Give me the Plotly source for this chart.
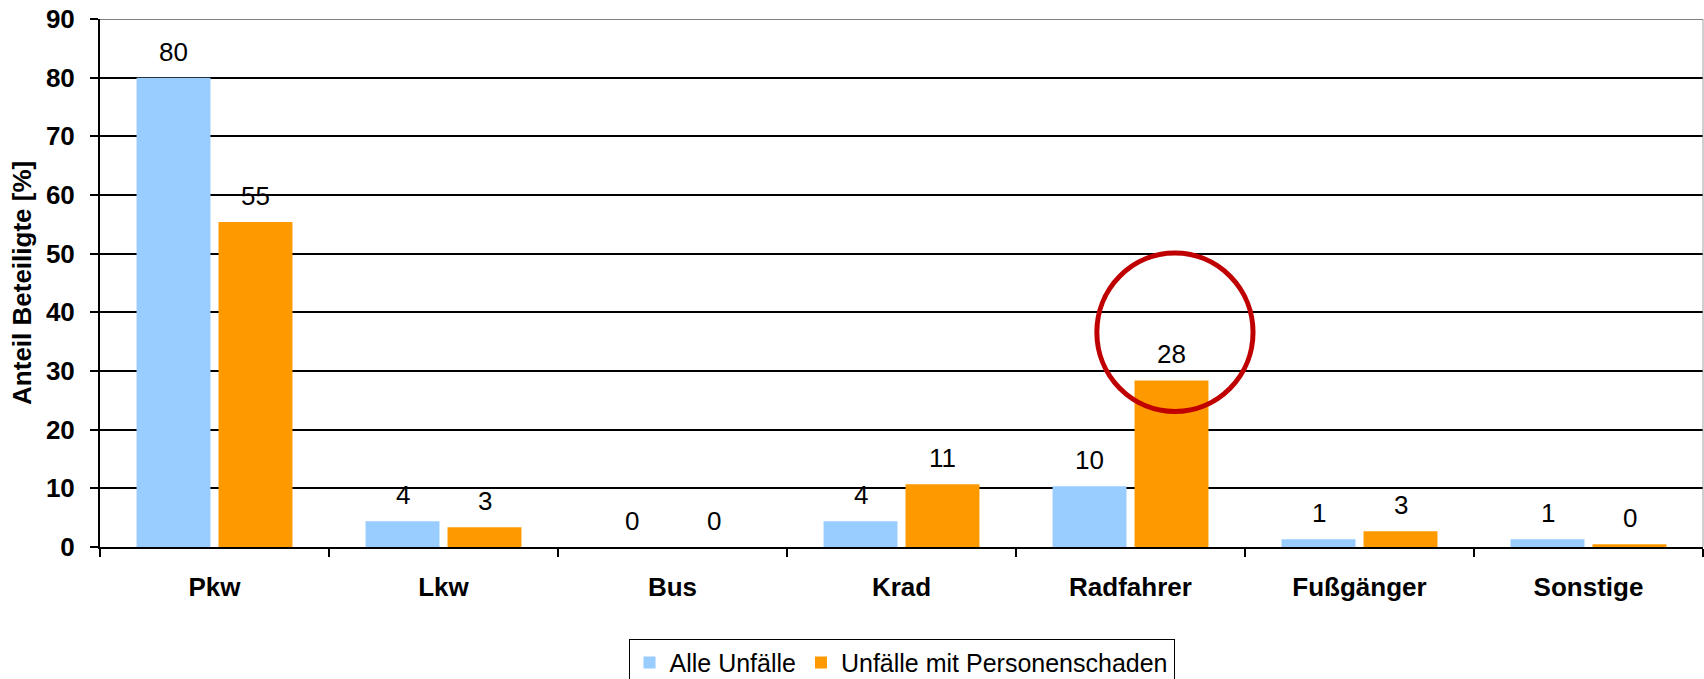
import plotly.graph_objects as go

categories = ["Pkw", "Lkw", "Bus", "Krad", "Radfahrer", "Fußgänger", "Sonstige"]
alle_unfaelle = [80.0, 4.4, 0.0, 4.4, 10.35, 1.3, 1.3]
personenschaden = [55.4, 3.36, 0.0, 10.7, 28.4, 2.67, 0.45]
series_names = ["Alle Unfälle", "Unfälle mit Personenschaden"]
y_ticks = [0, 10, 20, 30, 40, 50, 60, 70, 80, 90]

BLUE = "#99CCFF"
ORANGE = "#FF9900"

fig = go.Figure()
fig.add_trace(go.Bar(x=categories, y=alle_unfaelle, name=series_names[0],
                     marker=dict(color=BLUE, line=dict(width=0))))
fig.add_trace(go.Bar(x=categories, y=personenschaden, name=series_names[1],
                     marker=dict(color=ORANGE, line=dict(width=0))))

label_font = dict(family="Liberation Sans, Arial", size=26, color="black")
annotations = []
for cat, v in zip(categories, alle_unfaelle):
    annotations.append(dict(x=cat, y=v, xref="x", yref="y", text=f"{v:.0f}",
                            showarrow=False, yanchor="bottom", xanchor="center",
                            xshift=-41, yshift=9, font=label_font))
for cat, v in zip(categories, personenschaden):
    annotations.append(dict(x=cat, y=v, xref="x", yref="y", text=f"{v:.0f}",
                            showarrow=False, yanchor="bottom", xanchor="center",
                            xshift=41, yshift=9, font=label_font))
annotations.append(dict(x=-0.0487, y=0.5, xref="paper", yref="paper",
                        text="<b>Anteil Beteiligte [%]</b>", textangle=-90,
                        showarrow=False, xanchor="center", yanchor="middle",
                        font=dict(family="Liberation Sans, Arial", size=26, color="black")))

fig.update_layout(
    width=1704, height=679,
    margin=dict(l=100, r=1, t=19, b=132, pad=0, autoexpand=False),
    paper_bgcolor="white", plot_bgcolor="white",
    barmode="group", bargap=0.284, bargroupgap=0.098,
    showlegend=True,
    legend=dict(orientation="h", x=0.5, xanchor="center", y=-0.174, yanchor="top",
                bordercolor="black", borderwidth=1, bgcolor="white",
                font=dict(family="Liberation Sans, Arial", size=25, color="black"),
                itemwidth=30, tracegroupgap=0),
    annotations=annotations,
    shapes=[
        dict(type="line", xref="paper", yref="y", x0=0, x1=1, y0=90, y1=90,
             line=dict(color="#808080", width=2), layer="above"),
        dict(type="line", xref="paper", yref="paper", x0=1, x1=1, y0=0, y1=1,
             line=dict(color="#A0A0A0", width=1), layer="above"),
        dict(type="circle", xref="x", yref="y", x0=3.853, x1=4.535, y0=23.1, y1=50.1,
             line=dict(color="#C00000", width=5), layer="above"),
    ],
)
fig.update_xaxes(
    type="category", categoryorder="array", categoryarray=categories,
    showline=True, linecolor="black", linewidth=2,
    ticks="outside", tickson="boundaries", ticklen=8, tickwidth=2, tickcolor="black",
    showgrid=False, ticklabelstandoff=16, automargin=False,
    tickfont=dict(family="Liberation Sans, Arial", size=26, color="black", weight="bold"),
)
fig.update_yaxes(
    range=[0, 90], tickvals=y_ticks, ticktext=[str(t) for t in y_ticks],
    showline=True, linecolor="black", linewidth=2,
    ticks="outside", ticklen=8, tickwidth=2, tickcolor="black",
    showgrid=True, gridcolor="black", gridwidth=2, zeroline=False,
    ticklabelstandoff=10, automargin=False,
    tickfont=dict(family="Liberation Sans, Arial", size=26, color="black", weight="bold"),
)

fig.write_html("out.html", config={"displayModeBar": False},
               post_script="document.body.style.margin='0';document.body.style.overflow='hidden';")
